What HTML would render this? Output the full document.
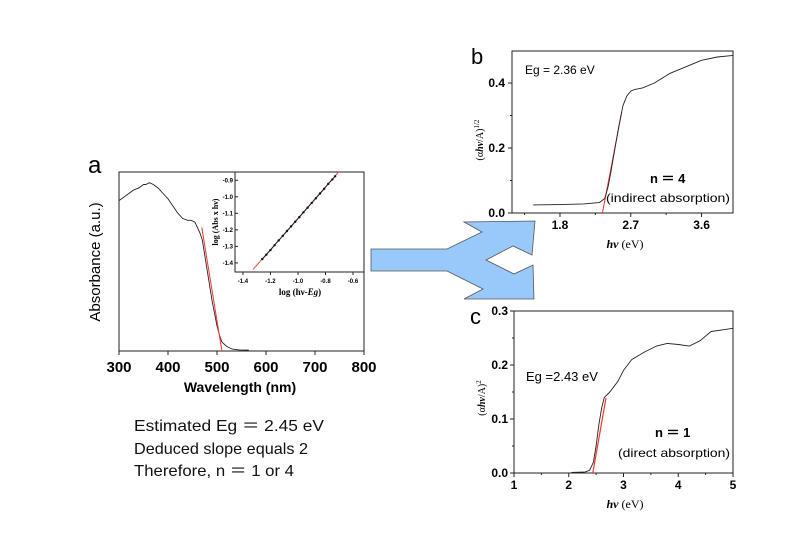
<!DOCTYPE html>
<html><head><meta charset="utf-8"><style>
body{margin:0;background:#fff;}
svg{display:block;font-family:"Liberation Sans",Arial,sans-serif;}
</style></head><body>
<svg id="s" width="800" height="541" viewBox="0 0 800 541">
<rect width="800" height="541" fill="#fff"/>
<polygon fill="#99c9fb" stroke="#555" stroke-width="0.8"
points="371,249 447,249 482,232 464,222 535,221 532,255 513,246 486,260 514,274 533,265 534,299 464,299 483,289 447,271 371,271"/>
<g font-size="16" fill="#111">
<text x="134" y="431" textLength="190" lengthAdjust="spacingAndGlyphs">Estimated Eg ＝ 2.45 eV</text>
<text x="134" y="454" textLength="174" lengthAdjust="spacingAndGlyphs">Deduced slope equals 2</text>
<text x="134" y="476" textLength="160" lengthAdjust="spacingAndGlyphs">Therefore,  n ＝ 1 or 4</text>
</g>
<g id="g"></g>
<g font-family="Liberation Serif, serif">
<text x="0" y="0" transform="translate(483,140) rotate(-90)" text-anchor="middle" font-size="10">(α<tspan font-style="italic" font-weight="bold">hν</tspan>/A)<tspan font-size="7" dy="-4">1/2</tspan></text>
<text x="0" y="0" transform="translate(485,398) rotate(-90)" text-anchor="middle" font-size="10">(α<tspan font-style="italic" font-weight="bold">hν</tspan>/A)<tspan font-size="7" dy="-4">2</tspan></text>
<text x="0" y="0" transform="translate(218,222) rotate(-90)" text-anchor="middle" font-size="8" font-weight="bold">log (Abs x hν)</text>
<text x="300" y="295" text-anchor="middle" font-size="9" font-weight="bold">log (hν-<tspan font-style="italic">Eg</tspan>)</text>
<text x="625" y="248" text-anchor="middle" font-size="12"><tspan font-style="italic" font-weight="bold">hν</tspan> (eV)</text>
<text x="625" y="508" text-anchor="middle" font-size="12"><tspan font-style="italic" font-weight="bold">hν</tspan> (eV)</text>
</g>
</svg>
<script>
// Panel a main
const aWave=[300,310,320,330,340,350,355,362,370,380,390,400,410,420,430,440,447,455,460,465,470,480,490,500,505,510,520,530,545,565];
const aAbs=[0.84,0.86,0.88,0.9,0.91,0.93,0.93,0.94,0.93,0.91,0.88,0.85,0.81,0.77,0.74,0.73,0.73,0.72,0.69,0.66,0.62,0.45,0.28,0.14,0.09,0.05,0.025,0.012,0.006,0.005];
const aFitX=[469,510];const aFitY=[0.69,0];
const aTicks=[300,400,500,600,700,800];
// inset
const inX=[-1.26,-1.23,-1.2,-1.17,-1.14,-1.11,-1.08,-1.05,-1.02,-0.99,-0.96,-0.93,-0.9,-0.87,-0.84,-0.81,-0.78,-0.75,-0.73];
const inY=[-1.377,-1.35,-1.322,-1.293,-1.264,-1.236,-1.207,-1.179,-1.151,-1.123,-1.094,-1.066,-1.037,-1.009,-0.98,-0.952,-0.922,-0.895,-0.876];
const inFitX=[-1.327,-0.70];const inFitY=[-1.44,-0.846];
const inXT=["-1.4","-1.2","-1.0","-0.8","-0.6"];const inYT=["-0.9","-1.0","-1.1","-1.2","-1.3","-1.4"];
// panel b
const bX=[1.46,1.8,2.1,2.3,2.37,2.41,2.45,2.5,2.55,2.6,2.65,2.7,2.75,2.85,3.0,3.2,3.4,3.6,3.8,4.0];
const bY=[0.025,0.026,0.028,0.032,0.045,0.08,0.13,0.2,0.27,0.33,0.36,0.375,0.38,0.385,0.40,0.43,0.45,0.47,0.48,0.485];
const bFitX=[2.34,2.585];const bFitY=[0,0.31];
const bXT=[1.8,2.7,3.6];const bYT=[0,0.2,0.4];
// panel c
const cX=[2.05,2.3,2.38,2.45,2.5,2.55,2.6,2.65,2.75,2.9,3.0,3.15,3.4,3.6,3.8,4.0,4.2,4.4,4.6,4.8,5.0];
const cY=[0.001,0.002,0.005,0.02,0.05,0.09,0.12,0.14,0.15,0.17,0.19,0.21,0.225,0.235,0.24,0.238,0.235,0.245,0.262,0.265,0.268];
const cFitX=[2.44,2.68];const cFitY=[0,0.139];
const cXT=[1,2,3,4,5];const cYT=[0,0.1,0.2,0.3];

const NS="http://www.w3.org/2000/svg",G=document.getElementById('g');
function mk(t,a,p){const e=document.createElementNS(NS,t);for(const k in a)e.setAttribute(k,a[k]);(p||G).appendChild(e);return e;}
function lin(d0,d1,r0,r1){return v=>r0+(v-d0)/(d1-d0)*(r1-r0);}
function line(xs,ys,sx,sy,col,w,name){const e=mk('polyline',{points:xs.map((x,i)=>sx(x).toFixed(1)+','+sy(ys[i]).toFixed(1)).join(' '),fill:'none',stroke:col,'stroke-width':w,'stroke-linejoin':'round'});

return e;}
function txt(x,y,s,a){const e=mk('text',Object.assign({x:x,y:y},a||{}));e.textContent=s;

return e;}
function box(x0,y0,x1,y1,name){const e=mk('rect',{x:x0,y:y0,width:x1-x0,height:y1-y0,fill:'none',stroke:'#222','stroke-width':1});

}

// Panel a
let ax=lin(300,800,119,364),ay=lin(0,1,351,172);
box(119,172,364,351,'panel-a-frame');
aTicks.forEach(t=>{mk('line',{x1:ax(t),x2:ax(t),y1:351,y2:355,stroke:'#222'});txt(ax(t),372,t,{'font-size':15,'font-weight':'bold','text-anchor':'middle'});});
line(aWave,aAbs,ax,ay,'#222',0.9,'absorbance-curve');
line(aFitX,aFitY,ax,ay,'#f33',1,'absorbance-fit-line');
txt(240,392,'Wavelength (nm)',{'font-size':14,'font-weight':'bold','text-anchor':'middle'});
txt(100,262,'Absorbance (a.u.)',{'font-size':15,'text-anchor':'middle',transform:'rotate(-90 100 262)'});
txt(88,173,'a',{'font-size':24});
// inset
let ix=lin(-1.458,-0.52,235,364),iy=lin(-1.455,-0.85,272,172);
box(235,172,364,272,'inset-frame');
inXT.forEach(t=>{const v=+t;mk('line',{x1:ix(v),x2:ix(v),y1:272,y2:275,stroke:'#222'});txt(ix(v),283,t,{'font-size':6,'font-weight':'bold','text-anchor':'middle'});});
inYT.forEach(t=>{const v=+t;mk('line',{x1:235,x2:238,y1:iy(v),y2:iy(v),stroke:'#222'});txt(233,iy(v)+2,t,{'font-size':6,'font-weight':'bold','text-anchor':'end'});});
line(inFitX,inFitY,ix,iy,'#f33',0.9,'inset-fit-line');
line(inX,inY,ix,iy,'#222',1,'inset-data');
inX.forEach((x,i)=>{const c=mk('circle',{cx:ix(x),cy:iy(inY[i]),r:1.2,fill:'#111'});

});

// Panel b
let bx=lin(1.19,4.0,512,733),by=lin(0,0.5,213,50.5);
box(512,51,733,213,'panel-b-frame');
bXT.forEach(t=>{mk('line',{x1:bx(t),x2:bx(t),y1:213,y2:217,stroke:'#222'});txt(bx(t),229,t.toFixed(1),{'font-size':12,'font-weight':'bold','text-anchor':'middle'});});
[1.35,2.25,3.15].forEach(t=>mk('line',{x1:bx(t),x2:bx(t),y1:213,y2:215,stroke:'#222'}));
bYT.forEach(t=>{mk('line',{x1:512,x2:508,y1:by(t),y2:by(t),stroke:'#222'});txt(505,by(t)+4,t.toFixed(1),{'font-size':12,'font-weight':'bold','text-anchor':'end'});});
[0.1,0.3].forEach(t=>mk('line',{x1:512,x2:510,y1:by(t),y2:by(t),stroke:'#222'}));
line(bFitX,bFitY,bx,by,'#f33',1,'indirect-fit-line');
line(bX,bY,bx,by,'#222',0.9,'indirect-curve');
txt(471,64,'b',{'font-size':22});
txt(525,74,'Eg = 2.36 eV',{'font-size':12});
txt(650,183,'n ＝ 4',{'font-size':13,'font-weight':'bold'});
txt(606,202,'(indirect absorption)',{'font-size':12,textLength:'124',lengthAdjust:'spacingAndGlyphs'});

// Panel c
let cx=lin(1,5,514,733),cy=lin(0,0.3,473,311);
box(514,311,733,473,'panel-c-frame');
cXT.forEach(t=>{mk('line',{x1:cx(t),x2:cx(t),y1:473,y2:477,stroke:'#222'});txt(cx(t),489,t,{'font-size':12,'font-weight':'bold','text-anchor':'middle'});});
[1.5,2.5,3.5,4.5].forEach(t=>mk('line',{x1:cx(t),x2:cx(t),y1:473,y2:475,stroke:'#222'}));
cYT.forEach(t=>{mk('line',{x1:514,x2:510,y1:cy(t),y2:cy(t),stroke:'#222'});txt(508,cy(t)+4,t.toFixed(1),{'font-size':12,'font-weight':'bold','text-anchor':'end'});});
[0.05,0.15,0.25].forEach(t=>mk('line',{x1:514,x2:512,y1:cy(t),y2:cy(t),stroke:'#222'}));
line(cFitX,cFitY,cx,cy,'#f33',1.2,'direct-fit-line');
line(cX,cY,cx,cy,'#222',0.9,'direct-curve');
txt(470,324,'c',{'font-size':22});
txt(526,381,'Eg =2.43 eV',{'font-size':13});
txt(655,437,'n ＝ 1',{'font-size':13,'font-weight':'bold'});
txt(618,457,'(direct absorption)',{'font-size':12,textLength:'112',lengthAdjust:'spacingAndGlyphs'});
</script>
</body></html>
